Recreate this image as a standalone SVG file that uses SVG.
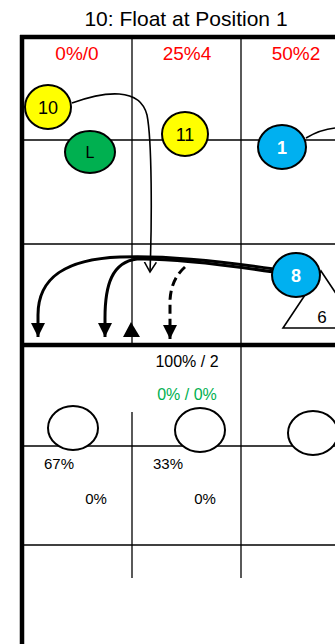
<svg xmlns="http://www.w3.org/2000/svg" width="335" height="644" viewBox="0 0 335 644">
<style>
.grid{stroke:#000;stroke-width:1.3;fill:none}
.thick{stroke:#000;stroke-width:4.5;fill:none}
.node{stroke:#000;stroke-width:2}
.lbl{font-family:"Liberation Sans",Arial,sans-serif;text-anchor:middle}
.red{fill:#FF0000;font-size:19px}
.blk{fill:#000}
.wht{fill:#fff;font-weight:bold;font-size:18px}
.route{stroke:#000;stroke-width:3;fill:none}
</style>
<defs>
<marker id="fa" markerUnits="userSpaceOnUse" markerWidth="16" markerHeight="16" viewBox="0 0 16 16" refX="14" refY="8" orient="auto">
<path d="M0,1 L14,8 L0,15 Z" fill="#000"/>
</marker>
<marker id="va" markerUnits="userSpaceOnUse" markerWidth="12" markerHeight="14" viewBox="0 0 12 14" refX="10" refY="7" orient="auto">
<path d="M0,1 L10,7 L0,13" fill="none" stroke="#000" stroke-width="1.5"/>
</marker>
</defs>
<rect width="335" height="644" fill="#fff"/>
<text class="lbl blk" x="186" y="26" font-size="21">10: Float at Position 1</text>
<g id="grid">
<line class="grid" x1="132" y1="37" x2="132" y2="345"/>
<line class="grid" x1="241" y1="37" x2="241" y2="578"/>
<line class="grid" x1="132" y1="412" x2="132" y2="578"/>
<line class="grid" x1="22" y1="140" x2="335" y2="140"/>
<line class="grid" x1="22" y1="244" x2="335" y2="244"/>
<line class="grid" x1="22" y1="446" x2="335" y2="446"/>
<line class="grid" x1="22" y1="545" x2="335" y2="545"/>
<line class="thick" x1="20" y1="37" x2="335" y2="37"/>
<line class="thick" x1="20" y1="345" x2="335" y2="345"/>
<line class="thick" x1="22" y1="35" x2="22" y2="644"/>
</g>
<g id="labels">
<text class="lbl red" x="77" y="60">0%/0</text>
<text class="lbl red" x="187" y="60">25%4</text>
<text class="lbl red" x="296" y="60">50%2</text>
<text class="lbl blk" x="187" y="367" font-size="16">100% / 2</text>
<text class="lbl" x="187" y="400" font-size="16" fill="#00B050">0% / 0%</text>
<text class="lbl blk" x="59" y="469" font-size="15">67%</text>
<text class="lbl blk" x="168" y="469" font-size="15">33%</text>
<text class="lbl blk" x="96" y="504" font-size="15">0%</text>
<text class="lbl blk" x="205" y="504" font-size="15">0%</text>
</g>
<g id="connectors">
<path d="M72,103 C105,91 140,87 147,115 C152,140 152,220 150,272" fill="none" stroke="#000" stroke-width="1.6" marker-end="url(#va)"/>
<path d="M306,138 C316,132 325,129 335,128" fill="none" stroke="#000" stroke-width="1.6"/>
<path class="route" d="M274,269 C220,261 165,255 120,257 C68,259 38,276 38,315 L38,337" marker-end="url(#fa)"/>
<path class="route" d="M274,272 C220,264 170,258 137,259 C112,262 105,285 105,318 L105,337" marker-end="url(#fa)"/>
<path class="route" d="M185,267 C176,275 171,285 170,300 L170,339" stroke-dasharray="9,5" marker-end="url(#fa)"/>
</g>
<polygon id="cone" points="131,322 123,337 140,337" fill="#000"/>
<g id="node-6">
<polygon points="321,271 283,328 359,328" fill="#fff" stroke="#000" stroke-width="1.6"/>
<text class="lbl blk" x="322" y="323" font-size="17">6</text>
</g>
<g id="node-10">
<ellipse class="node" cx="48" cy="107" rx="23" ry="22" fill="#FFFF00"/>
<text class="lbl blk" x="48" y="114" font-size="18">10</text>
</g>
<g id="node-L">
<ellipse class="node" cx="90" cy="152" rx="25" ry="21" fill="#00B050"/>
<text class="lbl blk" x="90" y="158" font-size="16">L</text>
</g>
<g id="node-11">
<ellipse class="node" cx="185" cy="134" rx="23" ry="22" fill="#FFFF00"/>
<text class="lbl blk" x="185" y="141" font-size="18">11</text>
</g>
<g id="node-1">
<ellipse class="node" cx="282" cy="147" rx="24" ry="22" fill="#00B0F0"/>
<text class="lbl wht" x="282" y="154">1</text>
</g>
<g id="node-8">
<ellipse class="node" cx="296" cy="275" rx="24" ry="22" fill="#00B0F0"/>
<text class="lbl wht" x="296" y="282">8</text>
</g>
<g id="node-b1">
<ellipse class="node" cx="73" cy="428" rx="25" ry="22" fill="#fff"/>
</g>
<g id="node-b2">
<ellipse class="node" cx="200" cy="430" rx="25" ry="22" fill="#fff"/>
</g>
<g id="node-b3">
<ellipse class="node" cx="313" cy="433" rx="25" ry="22" fill="#fff"/>
</g>
</svg>
